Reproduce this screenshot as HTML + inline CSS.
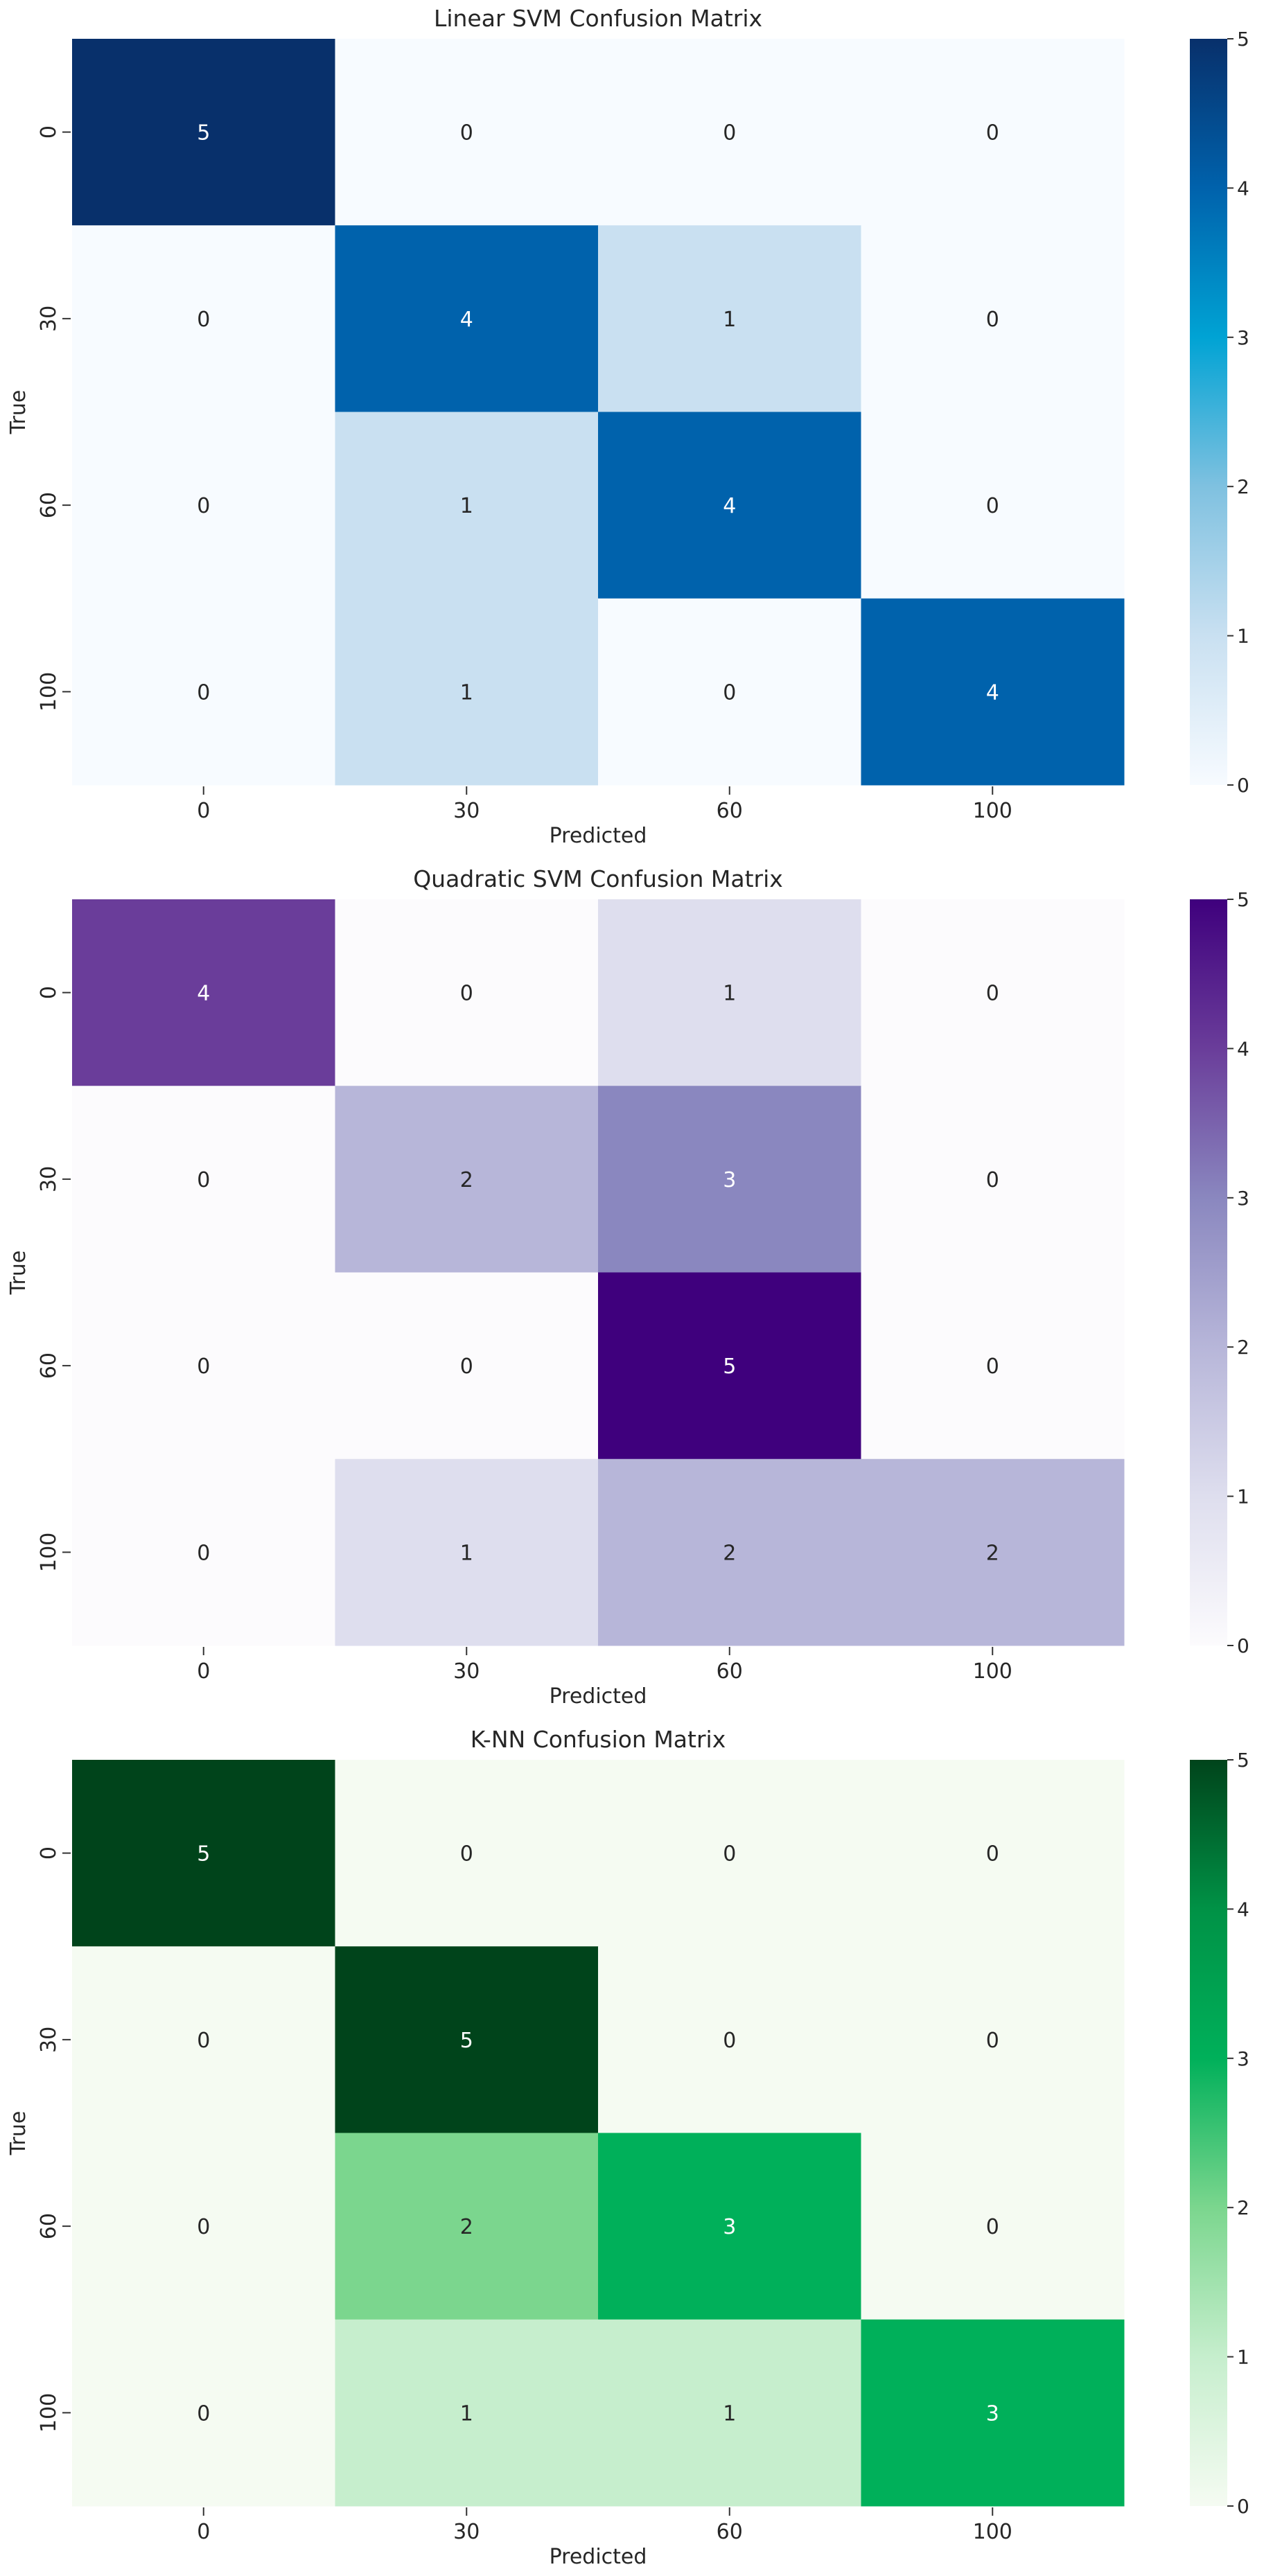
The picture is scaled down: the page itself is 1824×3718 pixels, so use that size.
<!DOCTYPE html>
<html><head><meta charset="utf-8"><style>
html,body{margin:0;padding:0;background:#fff}
svg{display:block}
text{font-family:"DejaVu Sans","Liberation Sans",sans-serif;fill:#262626}
</style></head><body>
<svg id="fig" xmlns="http://www.w3.org/2000/svg" width="1824" height="3718" viewBox="0 0 1824 3718"></svg>
<script>
const labels = ["0","30","60","100"];
const cbTicks = [0,1,2,3,4,5];
const titles = ["Linear SVM Confusion Matrix","Quadratic SVM Confusion Matrix","K-NN Confusion Matrix"];
const linearValues = [[5,0,0,0],[0,4,1,0],[0,1,4,0],[0,1,0,4]];
const quadraticValues = [[4,0,1,0],[0,2,3,0],[0,0,5,0],[0,1,2,2]];
const knnValues = [[5,0,0,0],[0,5,0,0],[0,2,3,0],[0,1,1,3]];
const blues = ["#f7fbff","#c9e0f1","#7fc1e0","#00a3d4","#0062ac","#08306b"];
const purples = ["#fcfbfd","#dedeee","#b7b6d9","#8a87bf","#6a3d9a","#3f007d"];
const greens = ["#f5fbf2","#c6eecd","#7bd68e","#00b05a","#009246","#00441b"];

const NS="http://www.w3.org/2000/svg";
const svg=document.getElementById('fig');
function mk(tag,attrs,parent){const e=document.createElementNS(NS,tag);for(const k in attrs)e.setAttribute(k,attrs[k]);(parent||svg).appendChild(e);return e;}
const L=104,R=1622,PH=1077,CBL=1717,CBR=1771;
const panels=[{vals:linearValues,pal:blues,top:56,name:'linear-svm'},{vals:quadraticValues,pal:purples,top:1298,name:'quadratic-svm'},{vals:knnValues,pal:greens,top:2540,name:'knn'}];
function xs(c){return L+c*(R-L)/4;}
panels.forEach((p,pi)=>{
  const g=mk('g',{});
  
  
  const ys=r=>p.top+r*PH/4;
  const cw=(R-L)/4, ch=PH/4;
  const t=mk('text',{x:863,y:p.top-18,'font-size':33,'text-anchor':'middle'},g);
  t.textContent=titles[pi];
  
  
  p.vals.forEach((row,r)=>row.forEach((v,c)=>{
    const rc=mk('rect',{x:xs(c),y:ys(r),width:cw+0.5,height:ch+0.5,fill:p.pal[v]},g);
    
    
    const cx=xs(c)+cw/2, cy=ys(r)+ch/2+11;
    const tx=mk('text',{x:cx,y:cy,'font-size':30,'text-anchor':'middle'},g);
    tx.style.fill = v>=3 ? '#ffffff' : '#262626';
    tx.textContent=v;
    
    
  }));
  labels.forEach((lb,i)=>{
    const cx=xs(i)+cw/2, bot=p.top+PH;
    mk('line',{x1:cx,x2:cx,y1:bot+2,y2:bot+14,stroke:'#333','stroke-width':2},g);
    const tx=mk('text',{x:cx,y:bot+47,'font-size':30,'text-anchor':'middle'},g);
    tx.textContent=lb;
    
    
    const cy=ys(i)+ch/2;
    mk('line',{x1:L-14,x2:L-2,y1:cy,y2:cy,stroke:'#333','stroke-width':2},g);
    const ty=mk('text',{x:0,y:0,'font-size':30,'text-anchor':'middle',transform:`translate(${L-24} ${cy}) rotate(-90)`},g);
    ty.textContent=lb;
    
    
  });
  const xl=mk('text',{x:863,y:p.top+PH+83,'font-size':30,'text-anchor':'middle'},g);
  xl.textContent='Predicted';
  
  
  const yl=mk('text',{x:0,y:0,'font-size':30,'text-anchor':'middle',transform:`translate(36 ${p.top+PH/2}) rotate(-90)`},g);
  yl.textContent='True';
  
  
  const gid='grad'+pi;
  const defs=mk('defs',{},g);
  const lg=mk('linearGradient',{id:gid,x1:0,y1:1,x2:0,y2:0},defs);
  p.pal.forEach((col,k)=>mk('stop',{offset:(k/5),'stop-color':col},lg));
  const cb=mk('rect',{x:CBL,y:p.top,width:CBR-CBL,height:PH,fill:`url(#${gid})`},g);
  
  
  cbTicks.forEach(tv=>{
    const y=p.top+PH-tv/5*PH;
    mk('line',{x1:CBR,x2:CBR+9,y1:y,y2:y,stroke:'#333','stroke-width':2},g);
    const tt=mk('text',{x:CBR+14,y:y+10,'font-size':28},g);
    tt.textContent=tv;
    
    
  });
});
</script>
</body></html>
